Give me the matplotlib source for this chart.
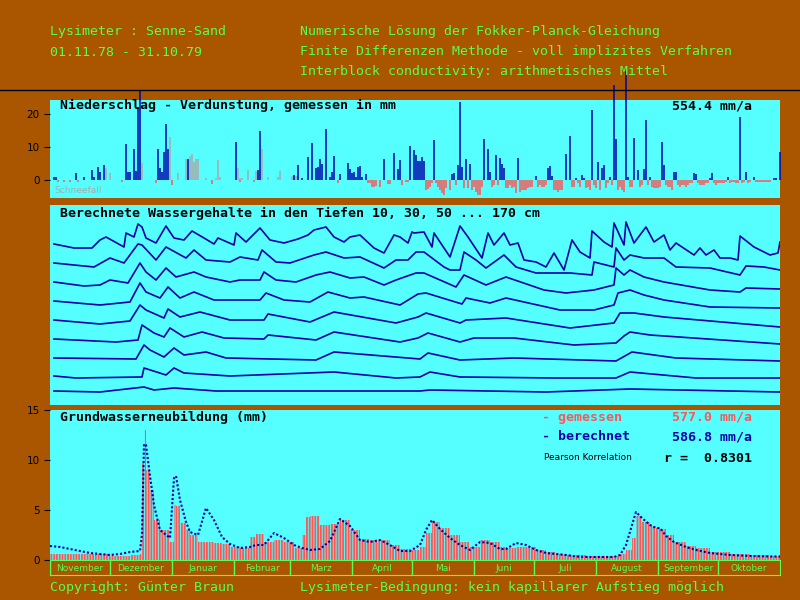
import numpy as np
import matplotlib
matplotlib.use('Agg')
import matplotlib.pyplot as plt

BROWN = '#AA5500'
CYAN = '#55FFFF'
BLUE = '#0000AA'
RED = '#FF5555'
GREY = '#AAAAAA'
GREEN = '#55FF55'
MONO = 'DejaVu Sans Mono'
plt.rcParams['hatch.linewidth'] = 1.3

# --- Niederschlag (Tag, mm) ---
regen_tag = [2, 3, 13, 17, 21, 22, 24, 25, 27, 38, 39, 40, 42, 43, 44, 45, 54, 55, 56, 57, 58, 59, 69, 93,
             104, 105, 122, 124, 126, 129, 131, 133, 134, 135, 136, 138, 140, 141, 142, 145, 149, 150, 151,
             152, 153, 154, 155, 156, 158, 167, 172, 174, 175, 180, 182, 183, 184, 185, 186, 187, 192, 201,
             202, 204, 205, 206, 208, 210, 217, 219, 220, 223, 225, 226, 227, 234, 243, 249, 250, 251, 258,
             260, 263, 266, 267, 271, 274, 276, 277, 280, 282, 283, 288, 289, 292, 294, 297, 298, 300, 306,
             307, 312, 313, 322, 323, 330, 331, 339, 345, 348, 352, 362, 363, 365]
regen_mm = [0.8, 1, 2, 1, 3, 1, 3.8, 2.5, 4.6, 11, 2.5, 2.5, 9.3, 2.8, 22, 27, 9.5, 3.5, 2.5, 8.6, 16.8, 9.3,
            6.5, 11.6, 3, 14.7, 1.5, 4.6, 0.5, 7, 11.2, 3.5, 3.8, 6.2, 4.9, 15.3, 1, 2.5, 7.4, 1.8, 5, 3.2, 2,
            2.5, 1, 4, 4.3, 0.8, 1.7, 6.5, 8.3, 3.3, 6, 10.3, 9.2, 7.7, 5.6, 5.6, 7, 5.6, 12.2, 1.7, 2.2, 4.6,
            23.7, 3.8, 6.2, 4.9, 12.5, 9.3, 2.5, 7.6, 6.7, 4.9, 3.5, 6.8, 1.2, 3.7, 4.1, 1.3, 8, 13.2, 0.7,
            1.5, 0.7, 21.3, 5.3, 3.5, 4.6, 1, 28.6, 12.3, 33, 1, 12.8, 3, 3.2, 18, 1, 11.5, 4.6, 2.5, 2.3,
            2.2, 1.7, 0.7, 2, 1, 19, 2.5, 1, 0.5, 0.5, 8.6]
schnee_tag = [28, 30, 46, 60, 64, 68, 70, 71, 72, 73, 74, 78, 83, 84, 85, 94, 95, 96, 99, 103, 106, 109,
              114, 115, 121, 123]
schnee_mm = [3.5, 2, 5.2, 13, 2, 6.3, 7.4, 7.8, 5.3, 6.5, 6.2, 0.5, 0.5, 6, 1, 3.5, 0.5, 0.7, 3.1, 2.6,
             9.3, 1, 0.8, 2.8, 1.2, 1.3]
verd_tag = [4, 7, 10, 14, 36, 53, 61, 81, 95, 102, 144, 159, 160, 161, 162, 163, 165, 169, 170, 176, 178,
            179, 188, 189, 190, 191, 193, 194, 195, 196, 197, 198, 200, 203, 207, 209, 211, 212, 213, 214,
            215, 216, 221, 222, 224, 228, 229, 230, 231, 232, 233, 235, 236, 237, 238, 239, 240, 241, 244,
            245, 246, 247, 248, 252, 253, 254, 255, 256, 261, 262, 264, 265, 268, 269, 270, 272, 273, 275,
            278, 279, 281, 284, 285, 286, 287, 290, 291, 295, 296, 299, 301, 302, 303, 304, 305, 308, 309,
            310, 311, 314, 315, 316, 317, 318, 319, 320, 321, 324, 325, 326, 327, 328, 329, 332, 333, 334,
            335, 336, 337, 338, 340, 341, 342, 343, 344, 346, 347, 349, 350, 353, 354, 355, 356, 357, 358,
            359, 360]
verd_mm = [-0.5, -0.5, -0.5, -0.5, -0.5, -0.8, -1.5, -1.3, -0.6, -0.5, -1, -0.8, -1, -2, -2, -1.8, -2,
           -1.2, -1.2, -1.5, -0.7, -0.7, -3, -2.8, -2, -1, -0.8, -2, -3, -4, -4.5, -2.5, -3, -1.5, -2.5,
           -2.5, -3, -2, -3.5, -4.5, -4.5, -2, -2, -1.5, -1.5, -2.5, -2.5, -1.5, -2.5, -2, -4, -3.5, -3, -3,
           -3, -2.5, -2, -2, -2, -1.5, -2, -2, -1.5, -3, -3, -3.5, -3, -3, -2, -2, -1, -2, -2.5, -2, -3,
           -1.5, -2.5, -3, -2.5, -1, -1.5, -3, -2, -3, -3.5, -2, -2, -2, -1.5, -1.5, -2, -2.5, -2.5, -2.5,
           -2, -1.5, -2, -2, -3, -1.5, -2, -1.5, -1.5, -2, -1.5, -1, -1, -1, -1.5, -1.5, -1.5, -1, -1, -1,
           -1.5, -1, -1, -1, -1, -0.5, -1, -0.5, -0.5, -1, -1, -1, -0.5, -1, -0.5, -0.5, -0.5, -0.5, -0.5,
           -0.5, -0.5, -0.5, -0.5]

# --- Wassergehalte (relative Werte), Tiefen 10 ... 170 cm ---
wg_tag = [
    [2, 12, 21, 25, 28, 37, 38, 42, 44, 46, 48, 53, 58, 62, 67, 71, 77, 82, 84, 92, 93, 98, 105, 110, 117,
     124, 129, 132, 138, 142, 147, 150, 155, 162, 167, 172, 175, 179, 181, 182, 187, 191, 192, 200, 205,
     209, 216, 219, 222, 227, 230, 234, 237, 243, 248, 252, 257, 261, 265, 270, 271, 277, 281, 282, 287,
     288, 292, 295, 298, 302, 307, 310, 313, 322, 325, 328, 332, 335, 340, 344, 345, 352, 360, 364, 365],
    [2, 22, 30, 37, 44, 46, 53, 58, 68, 72, 78, 90, 95, 104, 106, 113, 120, 132, 138, 147, 155, 167, 173,
     179, 183, 187, 197, 200, 205, 207, 213, 218, 227, 233, 243, 260, 271, 272, 282, 283, 287, 290, 297,
     307, 313, 330, 345, 348, 357, 365],
    [2, 17, 25, 30, 39, 45, 48, 53, 58, 63, 72, 78, 90, 95, 105, 107, 113, 123, 133, 140, 150, 157, 167,
     173, 183, 187, 195, 203, 207, 218, 228, 247, 258, 272, 282, 283, 287, 290, 297, 307, 330, 345, 348,
     365],
    [2, 25, 40, 45, 48, 55, 59, 65, 72, 82, 105, 108, 117, 130, 139, 150, 157, 175, 184, 188, 206, 208,
     220, 228, 255, 272, 282, 284, 290, 297, 307, 330, 365],
    [2, 25, 40, 45, 48, 57, 59, 65, 75, 90, 107, 109, 130, 142, 173, 184, 188, 205, 208, 228, 260, 282,
     285, 292, 307, 365],
    [2, 33, 44, 46, 52, 57, 60, 67, 76, 87, 107, 109, 133, 142, 175, 184, 189, 205, 212, 232, 262, 283,
     287, 290, 300, 365],
    [2, 43, 47, 50, 57, 62, 67, 78, 88, 133, 142, 185, 189, 205, 232, 283, 291, 313, 365],
    [2, 13, 46, 47, 58, 62, 67, 90, 142, 173, 185, 190, 205, 253, 283, 290, 323, 365],
    [2, 25, 47, 52, 62, 83, 185, 190, 248, 290, 365],
]
wg_wert = [
    [161, 157, 157, 165, 168, 158, 172, 168, 181, 178, 167, 162, 179, 167, 165, 174, 167, 161, 167, 160,
     172, 163, 177, 165, 162, 166, 170, 175, 178, 168, 163, 168, 170, 157, 152, 170, 168, 162, 173, 172,
     173, 158, 172, 148, 179, 168, 147, 172, 160, 172, 160, 162, 145, 143, 138, 152, 135, 165, 153, 147,
     174, 163, 158, 182, 160, 183, 162, 170, 178, 163, 170, 155, 162, 150, 157, 150, 155, 147, 147, 145,
     169, 158, 150, 152, 163],
    [142, 138, 147, 142, 161, 160, 145, 158, 147, 155, 145, 143, 148, 145, 155, 143, 142, 150, 153, 147,
     148, 137, 145, 145, 153, 153, 138, 135, 135, 153, 145, 137, 150, 138, 132, 132, 130, 143, 138, 157,
     145, 150, 147, 147, 138, 137, 130, 139, 138, 135],
    [123, 119, 120, 125, 122, 142, 133, 125, 137, 128, 133, 128, 123, 125, 125, 133, 125, 123, 130, 133,
     127, 128, 120, 125, 132, 132, 125, 118, 130, 120, 128, 115, 112, 115, 120, 137, 130, 135, 128, 123,
     115, 113, 117, 116],
    [104, 100, 103, 122, 113, 107, 118, 107, 113, 105, 105, 112, 105, 103, 113, 107, 108, 100, 111, 112,
     101, 107, 102, 107, 95, 95, 100, 112, 115, 110, 105, 98, 97],
    [85, 81, 84, 100, 95, 87, 96, 88, 93, 85, 85, 91, 83, 93, 82, 88, 92, 82, 85, 87, 77, 82, 92, 92, 88,
     78],
    [66, 63, 65, 80, 72, 68, 77, 68, 73, 67, 66, 70, 65, 73, 63, 67, 72, 63, 67, 67, 60, 62, 69, 73, 70,
     61],
    [47, 46, 60, 55, 48, 57, 50, 53, 47, 45, 53, 46, 52, 45, 47, 44, 53, 47, 44],
    [29, 27, 28, 37, 30, 37, 32, 29, 33, 27, 28, 33, 28, 27, 27, 33, 27, 27],
    [14, 13, 18, 15, 17, 14, 14, 15, 13, 16, 13],
]

# --- Grundwasserneubildung (mm) ---
gw_tag = [0, 5, 10, 15, 20, 25, 30, 35, 40, 45, 46, 47, 48, 50, 52, 55, 60, 62, 63, 65, 68, 70, 74, 78,
          82, 86, 90, 95, 100, 103, 107, 112, 117, 122, 126, 128, 130, 135, 140, 145, 150, 155, 160, 165,
          170, 175, 180, 185, 188, 191, 195, 200, 205, 210, 215, 220, 225, 228, 233, 238, 243, 248, 253,
          258, 263, 268, 273, 278, 282, 285, 288, 291, 293, 296, 300, 303, 305, 308, 312, 318, 323, 330,
          340, 350, 360, 365]
gw_gemessen = [0.6, 0.6, 0.6, 0.6, 0.6, 0.6, 0.4, 0.4, 0.5, 0.6, 9.7, 13, 9, 7, 4, 3, 1.8, 5.5, 5.4, 3.7,
               3, 2.5, 1.8, 1.8, 1.7, 1.6, 1.3, 1.2, 2.3, 2.6, 1.8, 2, 1.8, 1.2, 2.5, 4.3, 4.4, 3.5, 3.6,
               4, 3, 2.1, 2, 2, 1.5, 1.1, 1, 1.3, 2.7, 3.8, 3.2, 2.5, 1.8, 1.3, 2, 1.8, 1.3, 1.2, 1.3, 1.3,
               1, 0.8, 0.6, 0.5, 0.5, 0.4, 0.4, 0.4, 0.4, 0.6, 1, 2.2, 4.4, 3.8, 3.4, 3.2, 3.1, 2.5, 1.8,
               1.4, 1.2, 0.8, 0.6, 0.5, 0.4, 0.4]
gw_berechnet = [1.4, 1.3, 1.1, 0.9, 0.7, 0.6, 0.5, 0.6, 0.8, 0.9, 2.6, 11.6, 11.5, 8.4, 5.5, 3, 2.2, 8.2,
                8.4, 6, 3.8, 2.8, 2.5, 5.2, 4, 2.3, 1.6, 1.2, 1.3, 1.5, 1.5, 2.7, 2.2, 1.5, 1.2, 1.1, 1,
                1.1, 1.9, 4.1, 3.4, 2, 1.8, 2, 1.5, 0.9, 0.9, 1.5, 3, 4, 3.1, 2.2, 1.5, 1, 1.8, 1.7, 1.1,
                1.1, 1.7, 1.5, 1, 0.7, 0.6, 0.5, 0.35, 0.3, 0.3, 0.3, 0.3, 0.5, 1.5, 3.5, 4.8, 4.2, 3.5,
                3.2, 3.2, 2.4, 1.8, 1.3, 1, 0.7, 0.5, 0.4, 0.35, 0.35]

monate = ['November', 'Dezember', 'Januar', 'Februar', 'Marz', 'April', 'Mai', 'Juni', 'Juli',
          'August', 'September', 'Oktober']
monat_tage = [30, 31, 31, 28, 31, 30, 31, 30, 31, 31, 30, 31]

fig = plt.figure(figsize=(8, 6), dpi=100, facecolor=BROWN)
W, H = 800, 600


def achse(x0, y0, x1, y1, **kw):
    return fig.add_axes([x0 / W, 1 - y1 / H, (x1 - x0) / W, (y1 - y0) / H], **kw)


def fig_text(x, y, s, **kw):
    fig.text(x / W, 1 - y / H, s, va='center', ha='left', family=MONO, **kw)


fig_text(50, 32, 'Lysimeter : Senne-Sand', color=GREEN, fontsize=9.5)
fig_text(50, 52, '01.11.78 - 31.10.79', color=GREEN, fontsize=9.5)
fig_text(300, 32, 'Numerische Lösung der Fokker-Planck-Gleichung', color=GREEN, fontsize=9.5)
fig_text(300, 52, 'Finite Differenzen Methode - voll implizites Verfahren', color=GREEN, fontsize=9.5)
fig_text(300, 72, 'Interblock conductivity: arithmetisches Mittel', color=GREEN, fontsize=9.5)
fig_text(50, 587, 'Copyright: Günter Braun', color=GREEN, fontsize=9.5)
fig_text(300, 587, 'Lysimeter-Bedingung: kein kapillarer Aufstieg möglich', color=GREEN, fontsize=9.5)
fig.add_artist(plt.Line2D([0, 1], [1 - 90 / H, 1 - 90 / H], color='black', lw=1))


def stil(ax):
    ax.set_facecolor(CYAN)
    for s in ax.spines.values():
        s.set_visible(False)
    ax.set_xlim(0, 365)
    ax.set_xticks([])
    ax.tick_params(axis='y', colors='black', labelsize=7.5, length=4, direction='out')


# Panel 1
ax1 = achse(50, 100, 780, 198)
stil(ax1)
ax1.set_ylim(-5.45, 24.2)
ax1.set_yticks([0, 10, 20])
ax1.vlines(regen_tag, 0, regen_mm, color=BLUE, lw=1.1, clip_on=False, zorder=3)
ax1.vlines(schnee_tag, 0, schnee_mm, color=GREY, lw=1.1)
ax1.vlines(verd_tag, 0, verd_mm, color=RED, lw=1.1)
ax1.text(5, 22.5, 'Niederschlag - Verdunstung, gemessen in mm', family=MONO, weight='bold', fontsize=9.5, va='center')
ax1.text(311, 22.5, '554.4 mm/a', family=MONO, weight='bold', fontsize=9.5, va='center')
ax1.text(2, -3.2, 'Schneefall', color=GREY, fontsize=6.5, va='center')

# Panel 2
ax2 = achse(50, 205, 780, 405)
stil(ax2)
ax2.set_ylim(0, 200)
ax2.set_yticks([])
for t, v in zip(wg_tag, wg_wert):
    ax2.plot(t, v, color=BLUE, lw=1.2)
ax2.text(5, 192, 'Berechnete Wassergehalte in den Tiefen 10, 30, 50 ... 170 cm', family=MONO,
         weight='bold', fontsize=9.5, va='center')

# Panel 3
ax3 = achse(50, 410, 780, 560)
stil(ax3)
ax3.set_ylim(0, 15)
ax3.set_yticks([0, 5, 10, 15])
ax3.bar(gw_tag[:-1], gw_gemessen[:-1], width=np.diff(gw_tag), align='edge', facecolor='none',
        edgecolor=RED, hatch='||||||', linewidth=0)
ax3.plot(gw_tag, gw_berechnet, color=BLUE, lw=1.5, ls=(0, (1, 1)))
ax3.text(5, 14.3, 'Grundwasserneubildung (mm)', family=MONO, weight='bold', fontsize=9.5, va='center')
ax3.text(246, 14.3, '- gemessen', family=MONO, weight='bold', fontsize=9.5, color=RED, va='center')
ax3.text(311, 14.3, '577.0 mm/a', family=MONO, weight='bold', fontsize=9.5, color=RED, va='center')
ax3.text(246, 12.3, '- berechnet', family=MONO, weight='bold', fontsize=9.5, color=BLUE, va='center')
ax3.text(311, 12.3, '586.8 mm/a', family=MONO, weight='bold', fontsize=9.5, color=BLUE, va='center')
ax3.text(247, 10.2, 'Pearson Korrelation', fontsize=6.5, va='center')
ax3.text(307, 10.2, 'r =  0.8301', family=MONO, weight='bold', fontsize=9.5, va='center')

# Monatsleiste
ax4 = achse(50, 560, 780, 575)
ax4.set_facecolor(BROWN)
ax4.set_xlim(0, 365)
ax4.set_ylim(0, 1)
ax4.set_xticks([])
ax4.set_yticks([])
for s in ax4.spines.values():
    s.set_color(GREEN)
grenzen = np.concatenate([[0], np.cumsum(monat_tage)])
for i, m in enumerate(monate):
    ax4.axvline(grenzen[i], color=GREEN, lw=1)
    ax4.text((grenzen[i] + grenzen[i + 1]) / 2, 0.45, m, color=GREEN, fontsize=6.5, ha='center', va='center')

fig.savefig('out.png', dpi=100, facecolor=BROWN)
